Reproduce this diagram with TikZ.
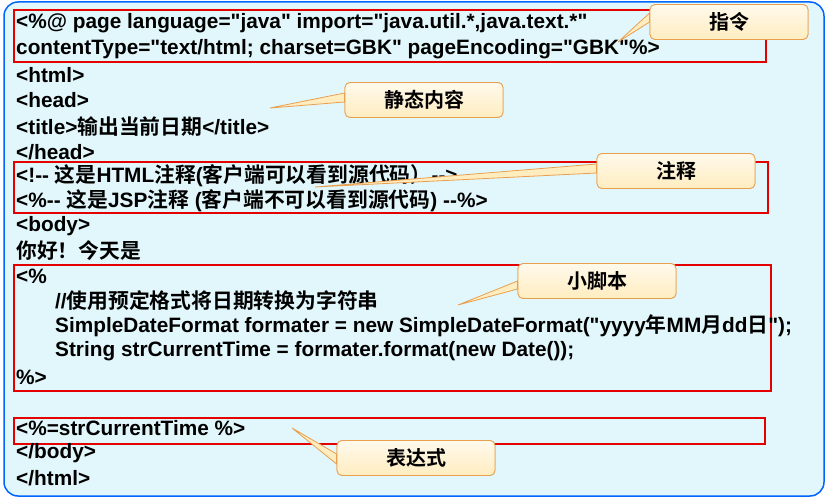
\documentclass[tikz,border=0pt]{standalone}
\usepackage{fontspec}
\setmainfont{Liberation Sans}[Ligatures=TeXOff]
\newfontfamily\cjk{Noto Sans CJK SC}[BoldFont={Noto Sans CJK SC Bold}]
\usetikzlibrary{positioning}
\definecolor{bgc}{HTML}{E2F7FB}
\definecolor{calfill}{HTML}{FFEDC0}
\definecolor{calline}{HTML}{E8A050}
\newcommand{\zh}[1]{{\cjk\bfseries #1}}
\begin{document}
\begin{tikzpicture}[x=1pt,y=-1pt,
  code/.style={anchor=west,inner sep=0pt,font=\fontsize{20.8}{22}\selectfont\bfseries},
  redbox/.style={draw=red!90!black,line width=1.6pt},
  calbox/.style={draw=calline,line width=0.8pt,rounded corners=5pt,top color=white!70!calfill,bottom color=calfill,minimum width=158pt,minimum height=35pt,font=\fontsize{20}{22}\selectfont},
  wedge/.style={draw=calline,line width=0.8pt,fill=calfill}]
\useasboundingbox (0,0) rectangle (828,500);
\fill[bgc,draw=blue!60!cyan,line width=1.5pt,rounded corners=14pt] (4,2) rectangle (824,496);
% red boxes
\draw[redbox] (14,10) rectangle (766,62);
\draw[redbox] (14,162) rectangle (768,213);
\draw[redbox] (14,265) rectangle (771,391);
\draw[redbox] (14,418) rectangle (765,444);
% code lines
\node[code] (l1) at (16,23) {<\%@ page language="java" import="java.util.*,java.text.*"};
\node[code] (l2) at (16,49) {contentType="text/html; charset=GBK" pageEncoding="GBK"\%>};
\node[code] (l3) at (16,75) {<html>};
\node[code] (l4) at (16,100) {<head>};
\node[code] (l5) at (16,127) {<title>\zh{输出当前日期}</title>};
\node[code] (l6) at (16,152) {</head>};
\node[code] (l7) at (16,176) {<!-- \zh{这是}HTML\zh{注释}(\zh{客户端可以看到源代码）}-->};
\node[code] (l8) at (16,201) {<\%-- \zh{这是}JSP\zh{注释} (\zh{客户端不可以看到源代码}) --\%>};
\node[code] (l9) at (16,226) {<body>};
\node[code] (l10) at (16,251) {\zh{你好！今天是}};
\node[code] (l11) at (16,276) {<\%};
\node[code] (l12) at (55,301) {//\zh{使用预定格式将日期转换为字符串}};
\node[code] (l13) at (55,326) {SimpleDateFormat formater = new SimpleDateFormat("yyyy\zh{年}MM\zh{月}dd\zh{日}");};
\node[code] (l14) at (55,351) {String strCurrentTime = formater.format(new Date());};
\node[code] (l15) at (16,377) {\%>};
\node[code] (l16) at (16,428) {<\%=strCurrentTime \%>};
\node[code] (l17) at (16,453) {</body>};
\node[code] (l18) at (16,478) {</html>};
% callouts
\coordinate (t1) at (618,42);
\coordinate (t2) at (270,108);
\coordinate (t3) at (315,187);
\coordinate (t4) at (458,305);
\coordinate (t5) at (292,428);
\node[calbox] (c1) at (729,22) {\zh{指令}};
\node[calbox] (c2) at (424,100) {\zh{静态内容}};
\node[calbox] (c3) at (676,171) {\zh{注释}};
\node[calbox] (c4) at (597,281) {\zh{小脚本}};
\node[calbox] (c5) at (416,458) {\zh{表达式}};
\draw[wedge] (t1) -- ([yshift=0pt]c1.west) -- ([yshift=9pt]c1.west) -- cycle;
\draw[wedge] (t2) -- ([yshift=-2pt]c2.west) -- ([yshift=7pt]c2.west) -- cycle;
\draw[wedge] (t3) -- ([yshift=-2pt]c3.west) -- ([yshift=7pt]c3.west) -- cycle;
\draw[wedge] (t4) -- ([yshift=-8pt]c4.west) -- ([yshift=0pt]c4.west) -- cycle;
\draw[wedge] (t5) -- ([yshift=-6pt]c5.west) -- ([yshift=4pt]c5.west) -- cycle;
\node[calbox] at (c1) {\zh{指令}};
\node[calbox] at (c2) {\zh{静态内容}};
\node[calbox] at (c3) {\zh{注释}};
\node[calbox] at (c4) {\zh{小脚本}};
\node[calbox] at (c5) {\zh{表达式}};
\end{tikzpicture}
\end{document}
